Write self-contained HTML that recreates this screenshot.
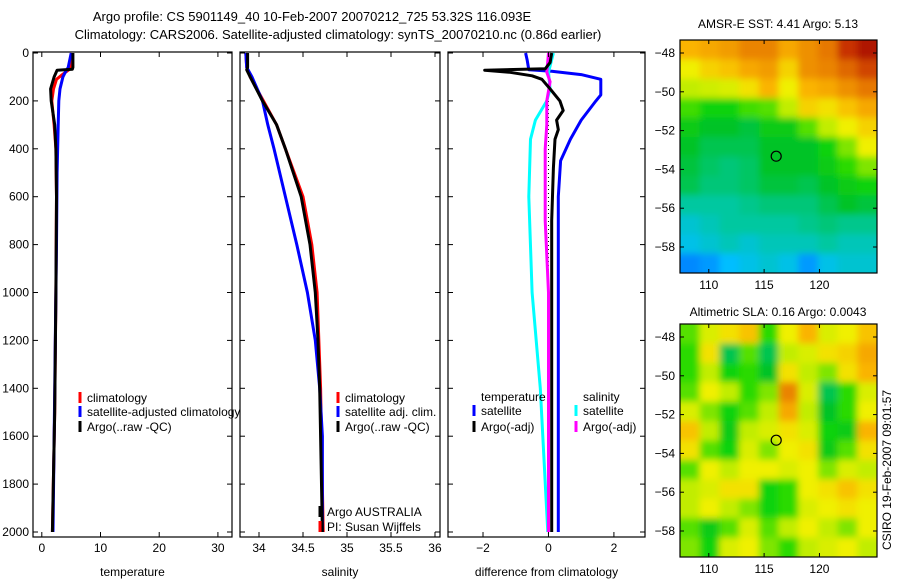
<!DOCTYPE html>
<html><head><meta charset="utf-8"><style>
html,body{margin:0;padding:0;background:#fff;}
svg{display:block;font-family:"Liberation Sans",sans-serif;}
</style></head><body>
<svg id="fig" width="900" height="580" viewBox="0 0 900 580" xmlns="http://www.w3.org/2000/svg">
<defs>
<filter id="blur" x="-5%" y="-5%" width="110%" height="110%"><feGaussianBlur stdDeviation="3.5"/></filter>
<clipPath id="clipMap1"><rect x="680" y="40" width="197" height="233"/></clipPath>
<clipPath id="clipMap2"><rect x="680" y="324" width="197" height="233"/></clipPath>
<clipPath id="clipP1"><rect x="0" y="0" width="240" height="580"/></clipPath>
</defs>
<text x="312" y="21" text-anchor="middle" font-size="13">Argo profile: CS 5901149_40 10-Feb-2007 20070212_725 53.32S 116.093E</text>
<text x="338" y="39" text-anchor="middle" font-size="13">Climatology: CARS2006. Satellite-adjusted climatology: synTS_20070210.nc (0.86d earlier)</text>
<text x="778" y="28" text-anchor="middle" font-size="12">AMSR-E SST: 4.41 Argo: 5.13</text>
<text x="778" y="316" text-anchor="middle" font-size="12">Altimetric SLA: 0.16 Argo: 0.0043</text>
<text transform="translate(891,470) rotate(-90)" text-anchor="middle" font-size="12">CSIRO 19-Feb-2007 09:01:57</text>
</svg>
<script>
// ---------- data ----------
const depthTicks=[0,200,400,600,800,1000,1200,1400,1600,1800,2000];
const tempTicks=[0,10,20,30];
const salTicks=[34,34.5,35,35.5,36];
const diffTicks=[-2,0,2];
const tempClimDepth=[0,50,70,90,110,150,200,300,400,600,1000,1500,2000];
const tempClim=[5.2,5.0,4.6,3.5,2.5,2.0,1.7,2.1,2.4,2.5,2.4,2.2,1.8];
const tempSatDepth=[0,60,80,100,150,200,300,500,800,1200,2000];
const tempSat=[5.0,4.5,4.0,3.6,3.1,2.9,2.8,2.6,2.5,2.3,1.9];
const tempArgoDepth=[0,60,68,72,100,150,200,300,400,600,1000,1500,2000];
const tempArgo=[5.3,5.3,5.2,2.6,2.1,1.5,1.6,2.2,2.4,2.5,2.4,2.2,1.8];
const salClimDepth=[0,60,100,200,300,400,600,800,1000,1400,2000];
const salClim=[33.85,33.86,33.9,34.05,34.2,34.3,34.5,34.6,34.66,34.7,34.73];
const salSatDepth=[0,60,100,200,300,400,600,800,1000,1200,1400,1600,2000];
const salSat=[33.85,33.86,33.92,34.04,34.1,34.17,34.3,34.43,34.55,34.64,34.69,34.72,34.72];
const salArgoDepth=[0,60,70,100,200,300,400,600,800,1000,1200,1400,2000];
const salArgo=[33.87,33.87,33.86,33.9,34.04,34.2,34.3,34.48,34.58,34.64,34.67,34.69,34.72];
const dTempSatDepth=[0,30,70,76,90,110,175,200,280,360,450,600,1000,2000];
const dTempSat=[-0.7,-0.65,-0.6,0.1,1.0,1.6,1.6,1.45,1.0,0.67,0.37,0.3,0.3,0.3];
const dTempArgoDepth=[0,40,66,72,80,95,110,150,200,240,280,320,360,480,700,2000];
const dTempArgo=[0.1,0.05,-0.1,-1.95,-1.2,-0.5,-0.2,0.05,0.35,0.45,0.25,0.3,0.2,0.15,0.1,0.1];
const dSalSatDepth=[0,80,150,200,280,360,600,1000,1400,2000];
const dSalSat=[0.15,0.0,0.05,-0.05,-0.4,-0.55,-0.6,-0.5,-0.25,-0.02];
const dSalArgoDepth=[0,80,120,200,300,400,700,1000,2000];
const dSalArgo=[0.0,-0.05,0.05,-0.05,-0.05,-0.1,-0.1,0.0,0.0];
const lonTicks=[110,115,120];
const latTicks=[-48,-50,-52,-54,-56,-58];
const sstGrid=[
[.74,.76,.78,.82,.82,.76,.80,.84,.92,.96],
[.66,.70,.72,.76,.78,.70,.80,.82,.86,.90],
[.62,.63,.64,.68,.74,.66,.74,.76,.80,.84],
[.55,.52,.52,.55,.56,.62,.70,.68,.72,.76],
[.50,.48,.48,.47,.50,.50,.56,.62,.66,.70],
[.48,.46,.46,.46,.48,.48,.48,.52,.58,.66],
[.47,.45,.44,.45,.48,.48,.48,.50,.54,.58],
[.46,.44,.44,.45,.47,.47,.46,.48,.50,.52],
[.42,.42,.42,.43,.44,.44,.44,.46,.48,.47],
[.38,.40,.42,.42,.42,.42,.43,.44,.43,.43],
[.36,.38,.40,.38,.40,.40,.40,.42,.40,.40],
[.28,.30,.34,.36,.38,.36,.30,.36,.38,.38]];
const slaGrid=[
[.56,.64,.68,.72,.54,.66,.74,.64,.66,.72],
[.54,.68,.46,.56,.46,.62,.64,.68,.70,.76],
[.54,.62,.52,.54,.48,.68,.62,.58,.68,.74],
[.56,.66,.62,.54,.58,.82,.64,.46,.54,.64],
[.64,.58,.52,.56,.62,.76,.62,.48,.54,.66],
[.72,.62,.50,.62,.64,.68,.64,.52,.50,.74],
[.68,.56,.52,.64,.58,.66,.68,.50,.56,.68],
[.56,.66,.62,.66,.66,.64,.66,.58,.64,.62],
[.62,.64,.68,.68,.52,.54,.66,.68,.72,.68],
[.62,.66,.62,.58,.52,.54,.64,.66,.68,.66],
[.56,.50,.56,.64,.56,.62,.66,.62,.58,.66],
[.58,.52,.64,.66,.58,.54,.62,.64,.66,.62]];
const argoLon=116.093, argoLat=-53.32;

// ---------- helpers ----------
const NS="http://www.w3.org/2000/svg";
const svg=document.getElementById('fig');
function mk(tag,attrs,parent){const e=document.createElementNS(NS,tag);for(const k in attrs)e.setAttribute(k,attrs[k]);(parent||svg).appendChild(e);return e;}
const Y0=53,Y1=532;
function yD(d){return Y0+(d/2000)*(Y1-Y0);}
const panels=[
 {x0:33,x1:232,vmin:-1.5,vmax:32.4,ticks:tempTicks,label:'temperature',name:'temperature-panel'},
 {x0:240,x1:440,vmin:33.784,vmax:36.057,ticks:salTicks,label:'salinity',name:'salinity-panel'},
 {x0:448,x1:645,vmin:-3.07,vmax:2.95,ticks:diffTicks,label:'difference from climatology',name:'difference-panel'}];
function xf(p,v){return p.x0+(v-p.vmin)/(p.vmax-p.vmin)*(p.x1-p.x0);}
function series(p,vals,depths,color,name){
  const pts=vals.map((v,i)=>xf(p,v).toFixed(1)+','+yD(depths[i]).toFixed(1)).join(' ');
  const l=mk('polyline',{points:pts,fill:'none',stroke:color,'stroke-width':3,'stroke-linejoin':'round'});
  
  
}
function legendEntry(x,y,color,text,name,clip){
  const g=mk('g',clip?{'clip-path':'url(#clipP1)'}:{});
  
  
  if(color)mk('line',{x1:x,y1:y-10,x2:x,y2:y+1,stroke:color,'stroke-width':3},g);
  const t=mk('text',{x:x+7,y:y,'font-size':12},g);t.textContent=text;
}
function tickText(x,y,txt,anchor,name){
  const t=mk('text',{x:x,y:y,'text-anchor':anchor,'font-size':12});t.textContent=txt;
  
  
}
function frame(p){
  const r=mk('rect',{x:p.x0,y:Y0-1,width:p.x1-p.x0,height:Y1-Y0+6,fill:'#fff',stroke:'#000','stroke-width':1.2});
  
  
}
function axes(p,leftLabels){
  const yb=Y1+5,yt=Y0-1;
  p.ticks.forEach(v=>{const x=xf(p,v);
    mk('line',{x1:x,y1:yb,x2:x,y2:yb-5,stroke:'#000'});mk('line',{x1:x,y1:yt,x2:x,y2:yt+5,stroke:'#000'});
    tickText(x,yb+15,String(v).replace('-','\u2212'),'middle','x-tick-label');});
  depthTicks.forEach(d=>{const y=yD(d);
    mk('line',{x1:p.x0,y1:y,x2:p.x0+5,y2:y,stroke:'#000'});mk('line',{x1:p.x1,y1:y,x2:p.x1-5,y2:y,stroke:'#000'});
    if(leftLabels)tickText(p.x0-4,y+4,String(d),'end','y-tick-label');});
  const t=mk('text',{x:(p.x0+p.x1)/2,y:576,'text-anchor':'middle','font-size':12});t.textContent=p.label;
  
  
}

// Panel 1
let p=panels[0];frame(p);
series(p,tempClim,tempClimDepth,'#f00','temp-climatology-line');
series(p,tempSat,tempSatDepth,'#00f','temp-satellite-line');
series(p,tempArgo,tempArgoDepth,'#000','temp-argo-line');
axes(p,true);
legendEntry(80,402,'#f00','climatology','legend-climatology',true);
legendEntry(80,416,'#00f','satellite-adjusted climatology','legend-satellite-clim',true);
legendEntry(80,431,'#000','Argo(..raw -QC)','legend-argo',true);
// Panel 2
p=panels[1];frame(p);
series(p,salClim,salClimDepth,'#f00','sal-climatology-line');
series(p,salSat,salSatDepth,'#00f','sal-satellite-line');
series(p,salArgo,salArgoDepth,'#000','sal-argo-line');
axes(p,false);
legendEntry(338,402,'#f00','climatology','legend-climatology-2');
legendEntry(338,416,'#00f','satellite adj. clim.','legend-satellite-clim-2');
legendEntry(338,431,'#000','Argo(..raw -QC)','legend-argo-2');
legendEntry(320,516,'#000','Argo AUSTRALIA','argo-australia-note');
legendEntry(320,531,'#f00','PI: Susan Wijffels','pi-note');
// Panel 3
p=panels[2];frame(p);
mk('line',{x1:xf(p,0),y1:Y0,x2:xf(p,0),y2:Y1+5,stroke:'#000','stroke-dasharray':'1,3'});
series(p,dTempSat,dTempSatDepth,'#00f','diff-temp-satellite-line');
series(p,dSalSat,dSalSatDepth,'#0ff','diff-sal-satellite-line');
series(p,dSalArgo,dSalArgoDepth,'#f0f','diff-sal-argo-line');
series(p,dTempArgo,dTempArgoDepth,'#000','diff-temp-argo-line');
axes(p,false);
legendEntry(474,401,null,'temperature','legend-temperature-header');
legendEntry(474,415,'#00f','satellite','legend-temp-satellite');
legendEntry(474,431,'#000','Argo(-adj)','legend-temp-argo');
legendEntry(576,401,null,'salinity','legend-salinity-header');
legendEntry(576,415,'#0ff','satellite','legend-sal-satellite');
legendEntry(576,431,'#f0f','Argo(-adj)','legend-sal-argo');

// ---------- maps ----------
const cmapStops=[[0,[0,0,170]],[0.25,[0,110,255]],[0.34,[0,190,255]],[0.42,[0,200,160]],[0.48,[0,195,40]],[0.53,[20,215,0]],[0.6,[170,235,0]],[0.66,[240,240,0]],[0.74,[250,180,0]],[0.84,[230,120,0]],[0.92,[200,50,0]],[1,[150,0,0]]];
function cmap(v){v=Math.max(0,Math.min(1,v));
  for(let i=1;i<cmapStops.length;i++){if(v<=cmapStops[i][0]){const a=cmapStops[i-1],b=cmapStops[i],t=(v-a[0])/(b[0]-a[0]);
    return 'rgb('+a[1].map((c,k)=>Math.round(c+(b[1][k]-c)*t)).join(',')+')';}}
  return 'rgb(150,0,0)';}
function drawMap(grid,top,clip,name){
  const L=680,R=877,B=top+233,lonMin=107.4,lonMax=125.2,latTop=-47.33,latBot=-59.34;
  const lx=v=>L+(v-lonMin)/(lonMax-lonMin)*(R-L);
  const ly=v=>top+(latTop-v)/(latTop-latBot)*(B-top);
  const g=mk('g',{'clip-path':`url(#${clip})`});
  
  
  const inner=mk('g',{filter:'url(#blur)'},g);
  const rows=grid.length,cols=grid[0].length,cw=(R-L)/cols,ch=(B-top)/rows;
  grid.forEach((row,i)=>row.forEach((v,j)=>{
    let x=L+j*cw,y=top+i*ch,w=cw+0.5,h=ch+0.5;
    if(j===0){x-=15;w+=15;} if(j===cols-1)w+=15;
    if(i===0){y-=15;h+=15;} if(i===rows-1)h+=15;
    const c=mk('rect',{x:x,y:y,width:w,height:h,fill:cmap(v)},inner);
    
    
  }));
  mk('rect',{x:L,y:top,width:R-L,height:B-top,fill:'none',stroke:'#000','stroke-width':1.2});
  lonTicks.forEach(v=>{const x=lx(v);mk('line',{x1:x,y1:B,x2:x,y2:B-4,stroke:'#000'});mk('line',{x1:x,y1:top,x2:x,y2:top+4,stroke:'#000'});
    tickText(x,B+16,String(v),'middle','lon-tick-label');});
  latTicks.forEach(v=>{const y=ly(v);mk('line',{x1:L,y1:y,x2:L+4,y2:y,stroke:'#000'});mk('line',{x1:R,y1:y,x2:R-4,y2:y,stroke:'#000'});
    tickText(L-5,y+4,String(v).replace('-','\u2212'),'end','lat-tick-label');});
  const c=mk('circle',{cx:lx(argoLon),cy:ly(argoLat),r:5,fill:'none',stroke:'#000','stroke-width':1.2});
  
  
}
drawMap(sstGrid,40,'clipMap1','sst-map');
drawMap(slaGrid,324,'clipMap2','sla-map');
</script>
</body></html>
